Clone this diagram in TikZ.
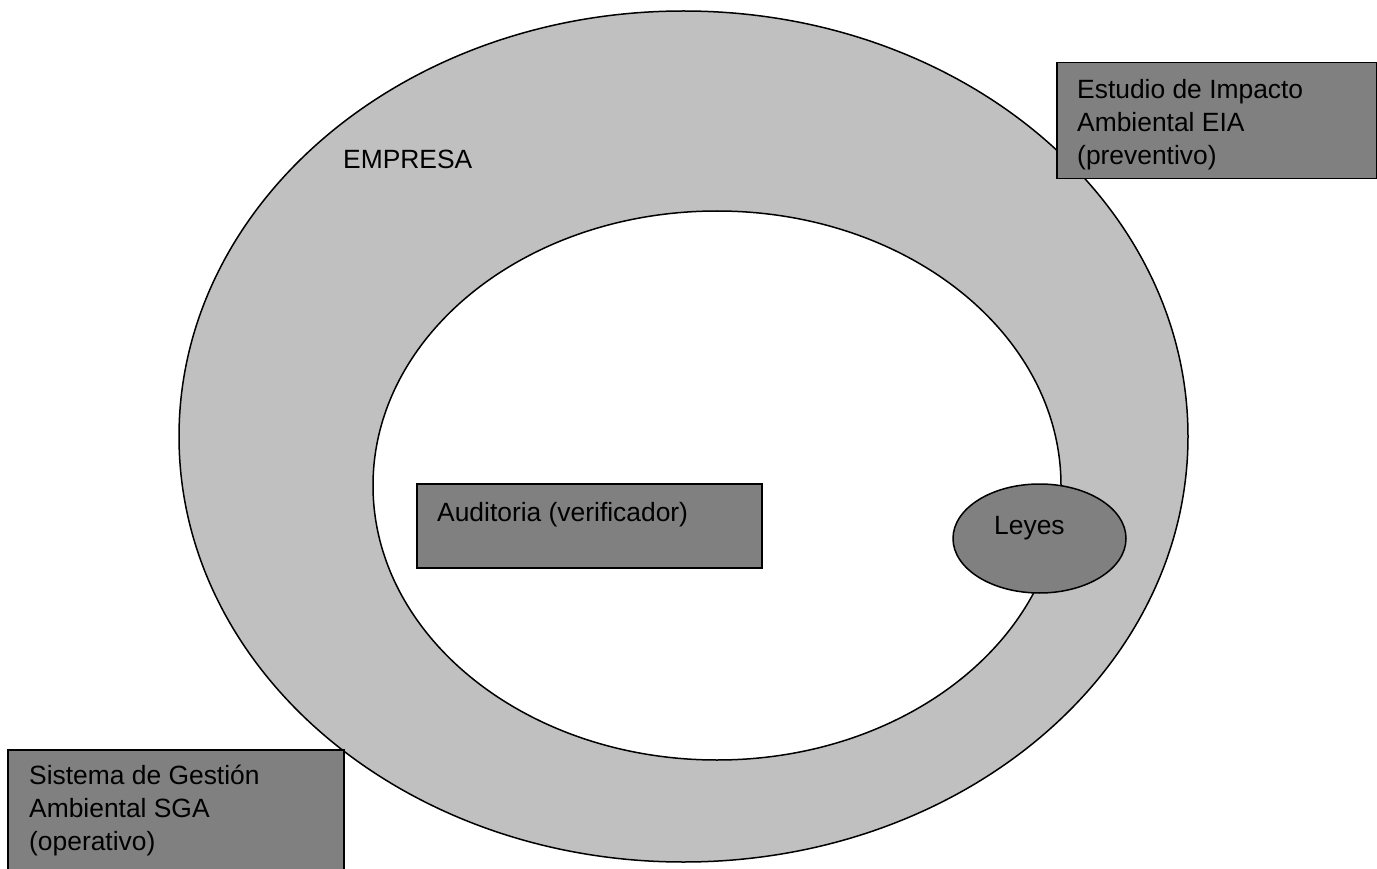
\documentclass[tikz,border=0pt]{standalone}
\usepackage{fontspec}
\setmainfont{Liberation Sans}
\usetikzlibrary{shapes.geometric}
\definecolor{ringgray}{HTML}{C0C0C0}
\definecolor{boxgray}{HTML}{808080}
\begin{document}
\begin{tikzpicture}[x=1pt,y=-1pt,
  outline/.style={draw=black,line width=1.5pt},
  oval/.style={outline,ellipse,inner sep=0pt},
  grbox/.style={outline,fill=boxgray,rectangle,inner sep=0pt,anchor=north west},
  lbl/.style={inner sep=0pt,font=\fontsize{26.4}{33}\selectfont,text=black},
]
\useasboundingbox (0,0) rectangle (1377,869);
\clip (0,0) rectangle (1377,869);
\node[oval,fill=ringgray,minimum width=1009pt,minimum height=851pt] (empresa) at (683.5,436.5) {};
\node[oval,fill=white,minimum width=688pt,minimum height=549pt] (interior) at (717,485.5) {};
\node[oval,fill=boxgray,minimum width=173pt,minimum height=109pt] (leyes) at (1039.5,538.5) {};
\node[grbox,minimum width=345pt,minimum height=84pt] (auditoria) at (416,483) {};
\node[grbox,minimum width=320pt,minimum height=116pt] (eia) at (1056,62) {};
\node[grbox,minimum width=336pt,minimum height=140pt] (sga) at (7,749) {};
\node[lbl,anchor=base west] (tEmpresa) at (343,169) {EMPRESA};
\node[lbl,anchor=north west,align=left] (tEIA) at (1077,79) {Estudio de Impacto\\Ambiental EIA\\(preventivo)};
\node[lbl,anchor=north west,align=left] (tSGA) at (29,765) {Sistema de Gestión\\Ambiental SGA\\(operativo)};
\node[lbl,anchor=base west] (tAud) at (437,521) {Auditoria (verificador)};
\node[lbl,anchor=base west] (tLeyes) at (994,534) {Leyes};
\end{tikzpicture}
\end{document}
